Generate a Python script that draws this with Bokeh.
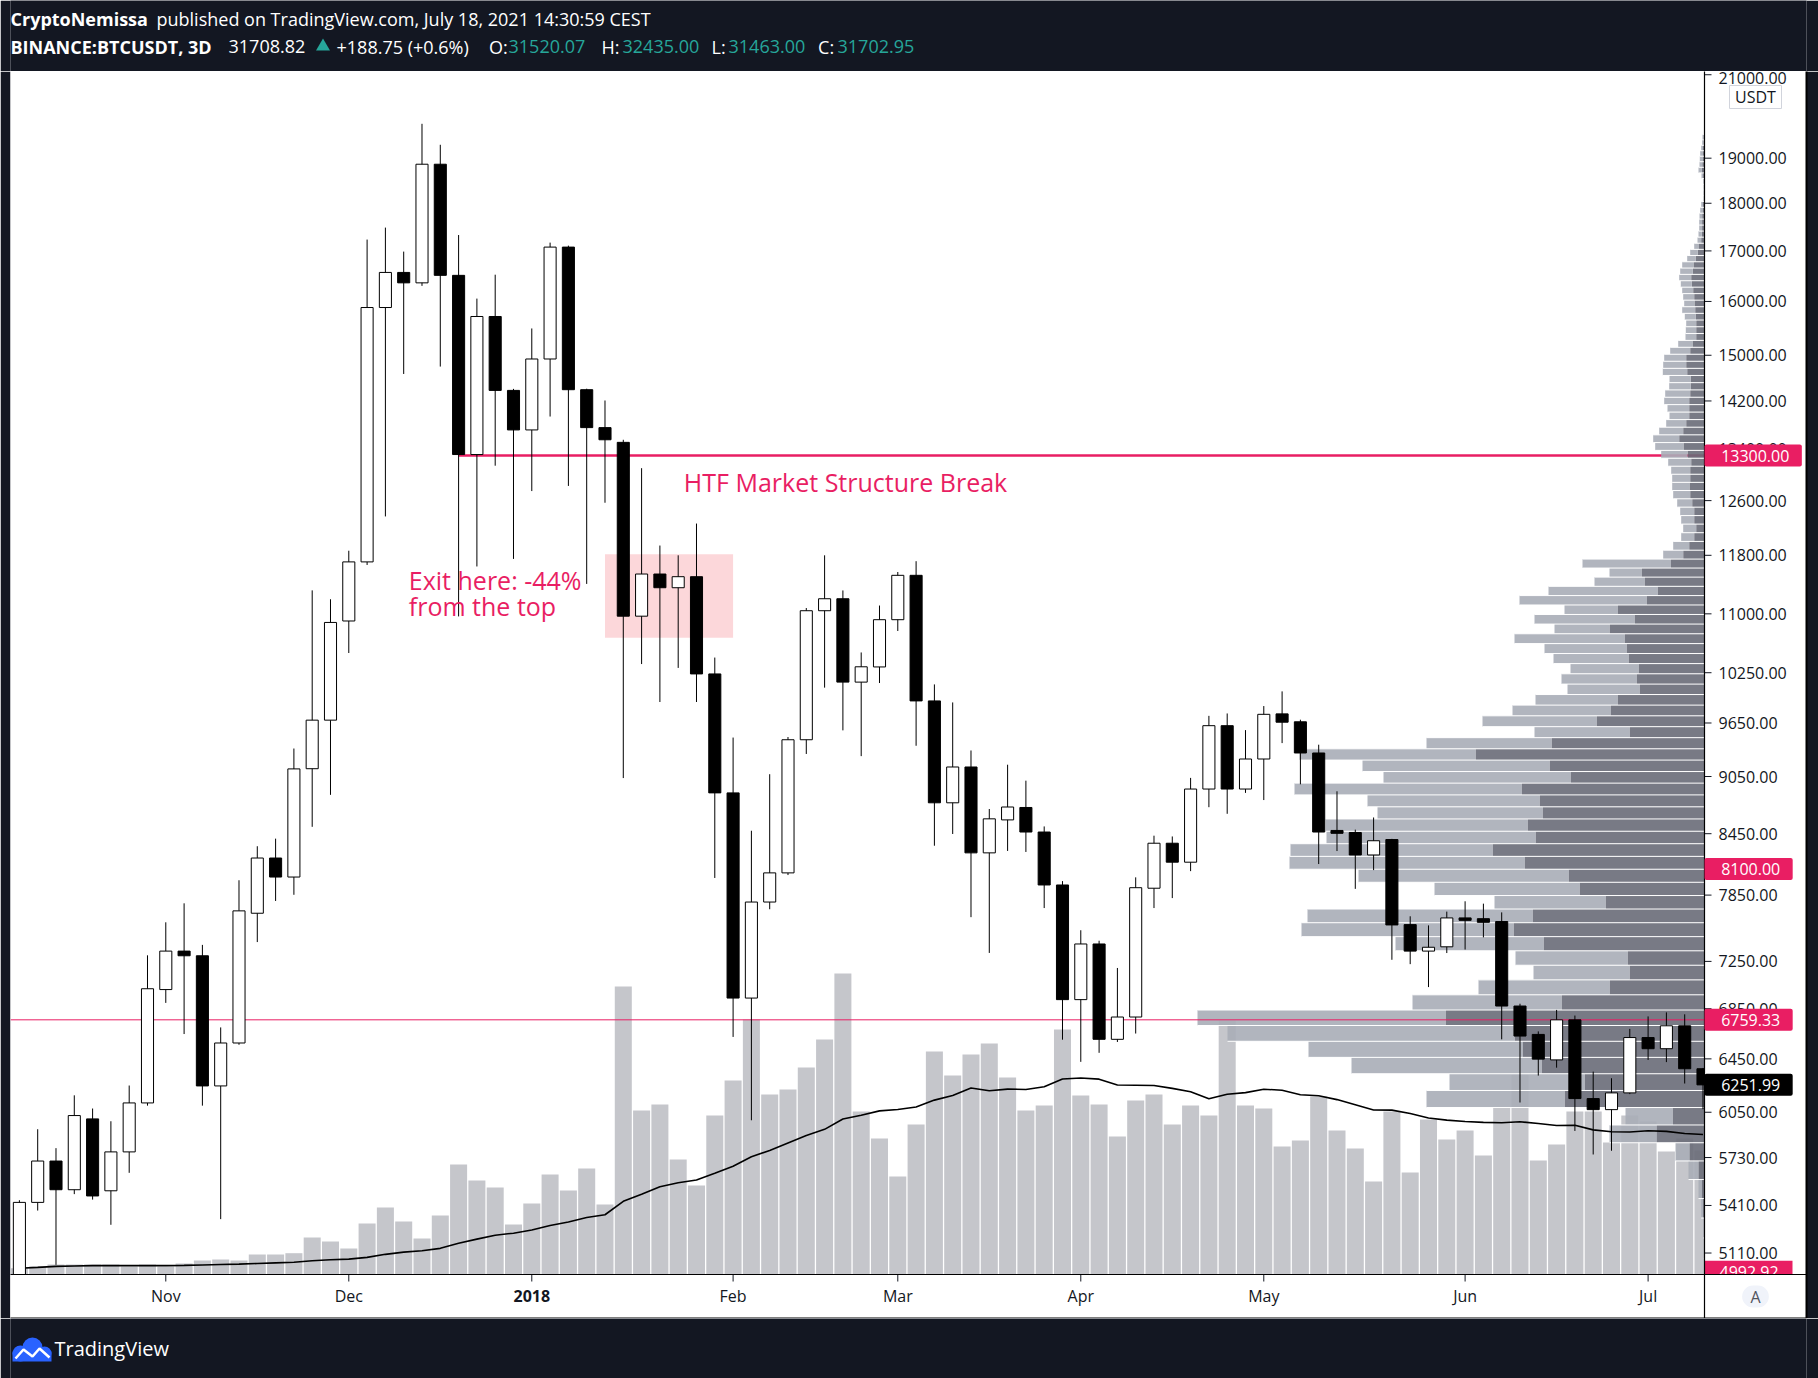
import numpy as np
import pandas as pd
from bokeh.plotting import figure
from bokeh.layouts import column
from bokeh.models import Range1d, LinearScale, FixedTicker, NumeralTickFormatter, Label
from bokeh.core.properties import value
from bokeh.embed import file_html
from bokeh.resources import INLINE

# ---------------- data (BINANCE:BTCUSDT, 3D bars from 2017-10-09) ----------------
opens = [4760, 5430, 5706, 5513, 6002, 5506, 5769, 6118, 7009, 7340,
         7299, 6244, 6574, 7681, 8207, 8022, 9135, 9683, 10906, 11707,
         15884, 16567, 16361, 18863, 16509, 13316, 15714, 14381, 13715, 14933,
         17078, 14393, 13753, 13512, 10969, 11538, 11350, 11501, 10235, 8874,
         6938, 7785, 8062, 9458, 11041, 11201, 10135, 10321, 10923, 11520,
         9909, 8769, 9154, 8258, 8591, 8720, 8467, 7946, 6925, 7403,
         6603, 6782, 7915, 8354, 8166, 8915, 9619, 8915, 9242, 9756,
         9664, 9309, 8483, 8462, 8237, 8391, 7577, 7340, 7378, 7638,
         7631, 7605, 6872, 6642, 6442, 6759, 6150, 6069, 6192, 6617,
         6529, 6711, 6374]
highs = [5444, 5928, 5795, 6174, 6077, 5985, 6247, 7303, 7598, 7773,
         7395, 6698, 7991, 8324, 8400, 9359, 11314, 11194, 11865, 17233,
         17482, 16986, 19800, 19308, 17327, 16055, 16522, 14407, 15490, 17170,
         17108, 14410, 14208, 13554, 13100, 11939, 11800, 12258, 10438, 9483,
         8480, 9075, 9489, 11077, 11800, 11313, 10502, 11110, 11566, 11717,
         10107, 9891, 9337, 8704, 9179, 9005, 8524, 7983, 7526, 7432,
         7193, 8019, 8430, 8422, 9035, 9733, 9761, 9568, 9848, 10023,
         9688, 9402, 8891, 8491, 8616, 8398, 7653, 7570, 7696, 7792,
         7770, 7689, 6891, 6666, 6840, 6794, 6352, 6302, 6686, 6787,
         6820, 6804, 6380]
lows = [4700, 5377, 5038, 5484, 5448, 5286, 5626, 6098, 6898, 6645,
        6098, 5322, 6560, 7420, 7795, 7853, 8520, 8853, 10495, 11664,
        12363, 14667, 16302, 14798, 10966, 11643, 13139, 11749, 12745, 13937,
        12824, 11402, 12568, 9033, 10357, 9896, 10309, 9896, 8013, 6622,
        5992, 7718, 8041, 9298, 10068, 9565, 9274, 10124, 10776, 9390,
        8329, 8447, 7645, 7324, 8277, 8267, 7729, 6600, 6427, 6497,
        6582, 6649, 7729, 7822, 8079, 8723, 8654, 8874, 8798, 9420,
        8966, 8148, 8276, 7909, 8089, 7264, 7226, 7030, 7323, 7354,
        7462, 6603, 6121, 6322, 6382, 5916, 5751, 5777, 6183, 6442,
        6425, 6262, 6072]
closes = [5430, 5706, 5513, 6026, 5472, 5769, 6118, 7016, 7340, 7299,
          6244, 6574, 7703, 8207, 8022, 9133, 9683, 10887, 11707, 15884,
          16567, 16361, 18863, 16509, 13316, 15714, 14381, 13715, 14933, 17078,
          14393, 13753, 13554, 10969, 11538, 11350, 11501, 10235, 8874, 6938,
          7785, 8062, 9458, 11041, 11201, 10135, 10323, 10923, 11520, 9909,
          8769, 9154, 8258, 8602, 8725, 8467, 7946, 6925, 7403, 6603,
          6782, 7920, 8354, 8166, 8915, 9619, 8915, 9242, 9751, 9659,
          9309, 8467, 8454, 8237, 8379, 7574, 7340, 7374, 7638, 7616,
          7598, 6872, 6629, 6448, 6759, 6150, 6069, 6192, 6617, 6529,
          6711, 6374, 6251.99]
volumes = [3150, 4000, 5000, 5000, 5000, 5000, 4000, 5000, 4000, 5500,
           7000, 7500, 7000, 10000, 10000, 10650, 18500, 16500, 13000, 25500,
           33500, 26500, 18000, 29500, 55000, 47000, 43500, 25000, 35500, 50000,
           42000, 53000, 35000, 144000, 82000, 85000, 57500, 44500, 79500, 97000,
           127500, 90000, 92500, 103500, 117500, 150500, 81500, 68000, 49000, 75000,
           111500, 99500, 110000, 115500, 98500, 82000, 84500, 122500, 89500, 85000,
           69000, 87000, 90000, 75000, 84500, 79500, 127000, 84500, 83000, 64000,
           67000, 89000, 72000, 63000, 46500, 81500, 51000, 77500, 67500, 72000,
           59500, 83500, 100000, 57000, 65000, 81500, 81500, 66000, 79500, 76500,
           61500, 68000, 62000]

month_ticks = [8, 18, 28, 39, 48, 58, 68, 79, 89]
month_labels = ["Nov", "Dec", "2018", "Feb", "Mar", "Apr", "May", "Jun", "Jul"]
price_ticks = [21000, 19000, 18000, 17000, 16000, 15000, 14200, 13400, 12600, 11800,
               11000, 10250, 9650, 9050, 8450, 7850, 7250, 6850, 6450, 6050, 5730, 5410, 5110]

# visible-range volume profile (rows from top price down)
vp_high, vp_low, vp_rows = 19800, 4700, 120
vp_total = [0, 0, 2, 2.3, 3.3, 4.3, 4.7, 5, 6, 3, 1.3, 1, 1, 1, 3.3, 4.3, 5, 5.3, 5.3, 6, 7,
            10.3, 14.3, 17.3, 22.3, 24.3, 25.3, 23.7, 22.3, 21.3, 20.3,
            22.3, 19.7, 18.3, 18.7, 19, 26.3, 34.3, 40.3, 41.3, 41.7,
            35, 35.3, 39.3, 40.3, 37, 35, 38.3, 45.3, 51.3, 49.3,
            43.3, 36.3, 33.3, 32.3, 32.3, 31.3, 27.3, 24.3, 23.3, 21.3,
            23.3, 31.3, 41.3,
            122, 95, 110, 156, 185, 140, 170, 150, 190, 160, 151,
            134, 143, 137, 169, 192, 222, 170, 278, 405, 342,
            321, 410, 337, 327, 379, 378, 414, 415, 346, 270,
            210, 397, 403, 309, 189, 171, 226, 292, 507, 477,
            396, 353, 255, 278, 79, 95, 29, 16, 6, 3.3,
            1.3, 0.7, 0.5, 0.3, 0.2]
vp_up = [0, 0, 1, 1, 1.5, 2, 2, 2.2, 2.6, 1.4, 0.6, 0.5, 0.5, 0.5, 1.5, 2, 2.3, 2.4, 2.4, 2.8, 3.3,
         6, 6.7, 8.7, 11, 11.7, 13.3, 12.7, 11.3, 10.3, 10,
         9.3, 8.7, 8.3, 8.3, 8.3, 12, 14.3, 18.3, 18.3, 17.3,
         13.7, 13.7, 14.3, 15.3, 15.3, 15.3, 18.3, 21.3, 25.3, 21,
         17, 13.3, 14.3, 14.3, 15, 14.3, 12.3, 10.3, 10.3, 8.3,
         10.3, 15.3, 21.3,
         34, 63, 60, 47, 58, 87, 70, 95, 80, 78, 76,
         66, 68, 65, 87, 94, 108, 75, 153, 229, 155,
         134, 183, 165, 162, 177, 169, 212, 180, 136, 125,
         99, 172, 191, 161, 77, 75, 95, 143, 259, 190,
         182, 163, 120, 140, 32, 48, 15, 6, 2.7, 1.5,
         0.6, 0.3, 0.2, 0.1, 0.1]

break_bar, break_level = 24, 13300
close_level = 6759.33
zone_left, zone_right, zone_low, zone_high = 32, 39, 10690, 11815
tags = [(13300, "13300.00", "#e91e63"), (8100, "8100.00", "#e91e63"),
        (6759.33, "6759.33", "#e91e63"), (6251.99, "6251.99", "#000000")]
low_tag = (4992.92, "4992.92", "#e91e63")

# ---------------- layout constants ----------------
DARK = "#131722"
PINK = "#e91e63"
TEAL = "#26a69a"
FONT = "Open Sans"
NB = "\u00a0"
W = 1818
LEFT_B, RIGHT_B = 10, 12
BAR_PX = 18.3            # pixels per bar
FRAME_W = W - LEFT_B - RIGHT_B   # white chart box width (page x 10..1806)
FRAME_H = 1247           # white chart box height (page y 71..1318)
PANE_W = 1694            # price pane width (page x 10..1704)
PANE_H = 1203            # price pane height (page y 71..1274)
X0 = -0.486
X1 = X0 + PANE_W / BAR_PX        # right edge of price pane
XE = X0 + FRAME_W / BAR_PX       # right edge of white box
P_TOP, P_BOT = 21082, 4980       # prices at top / bottom of price pane
RATIO = P_TOP / P_BOT
Y_START = P_BOT * RATIO ** (-(FRAME_H - PANE_H) / PANE_H)
def below(px):                   # price value px pixels below the pane bottom
    return P_BOT * RATIO ** (-px / PANE_H)
def above(v, px):                # price value px pixels above a price
    return v * RATIO ** (px / PANE_H)
VOL_TOP = 601500
VOL_START = -VOL_TOP * (FRAME_H - PANE_H) / PANE_H

idx = np.arange(len(opens))
o = np.array(opens, dtype=float)
c = np.array(closes, dtype=float)
up = c >= o

# ---------------- header ----------------
h = figure(width=W, height=71, x_range=Range1d(LEFT_B, W - RIGHT_B), y_range=Range1d(71, 0),
           x_axis_location=None, y_axis_location=None, output_backend="svg",
           toolbar_location=None, min_border_left=LEFT_B, min_border_right=RIGHT_B,
           min_border_top=0, min_border_bottom=0, background_fill_color=DARK,
           border_fill_color=DARK, outline_line_color=None)
h.grid.visible = False

def htext(x, y, t, color="white", style="normal", size="18px"):
    h.text(x=[x], y=[y], text=[t], text_font=value(FONT), text_font_size=size,
           text_color=color, text_font_style=style, text_baseline="alphabetic")

htext(10, 18.7, "CryptoNemissa", style="bold")
htext(156, 18.7, "published on TradingView.com, July 18, 2021 14:30:59 CEST")
htext(10, 46, "BINANCE:BTCUSDT, 3D", style="bold")
htext(228, 46, "31708.82")
h.scatter(x=[322.5], y=[46], marker="triangle", size=14, fill_color=TEAL, line_color=None)
htext(336, 46, "+188.75 (+0.6%)")
for lx, lab, vx, val in [(488.5, "O:", 508, "31520.07"), (601, "H:", 622, "32435.00"),
                         (711, "L:", 728, "31463.00"), (817.6, "C:", 837, "31702.95")]:
    htext(lx, 46, lab)
    htext(vx, 46, val, color=TEAL)

# ---------------- main chart ----------------
p = figure(width=W, height=FRAME_H, x_range=Range1d(X0, XE), y_range=Range1d(Y_START, P_TOP),
           y_axis_type="log", y_axis_location="right", x_axis_location="below",
           output_backend="svg", toolbar_location=None,
           min_border_left=LEFT_B, min_border_right=RIGHT_B, min_border_top=0, min_border_bottom=0,
           background_fill_color="white", border_fill_color=DARK, outline_line_color=None)
p.grid.visible = False
p.extra_y_ranges = {"vol": Range1d(VOL_START, VOL_TOP)}
p.extra_y_scales = {"vol": LinearScale()}
p.extra_x_ranges = {"vp": Range1d(PANE_W, PANE_W - FRAME_W)}
p.extra_x_scales = {"vp": LinearScale()}

# volume
p.vbar(x=idx, top=volumes, bottom=0, width=0.93, y_range_name="vol",
       fill_color="#c5c6cb", line_color=None)

# 13300 structure line
p.segment(x0=[break_bar], y0=[break_level], x1=[X1], y1=[break_level],
          line_color=PINK, line_width=2.5)

# volume profile
row = (vp_high - vp_low) / vp_rows
centers = vp_high - (np.arange(vp_rows) + 0.5) * row
vt = np.array(vp_total, dtype=float)
vu = np.array(vp_up, dtype=float)
p.hbar(y=centers, height=row, left=vu, right=0, x_range_name="vp",
       fill_color="#696c78", fill_alpha=0.9, line_color=None)
p.hbar(y=centers, height=row, left=vt, right=vu, x_range_name="vp",
       fill_color="#a9adb7", fill_alpha=0.9, line_color=None)
edges = vp_high - np.arange(1, vp_rows) * row
ext = np.maximum(vt[:-1], vt[1:])
p.segment(x0=np.zeros(len(edges)), y0=edges, x1=ext, y1=edges, x_range_name="vp",
          line_color="white", line_width=1)

# thin close line
p.segment(x0=[X0], y0=[close_level], x1=[X1], y1=[close_level], line_color=PINK, line_width=1)

# volume moving average
ma = pd.Series(volumes, dtype=float).rolling(20, min_periods=1).mean()
p.line(idx, ma, y_range_name="vol", line_color="black", line_width=1.6)

# exit zone
p.quad(left=[zone_left], right=[zone_right], bottom=[zone_low], top=[zone_high],
       fill_color="#f23645", fill_alpha=0.2, line_color=None)

# candles
p.segment(x0=idx, y0=lows, x1=idx, y1=highs, line_color="black", line_width=1)
p.vbar(x=idx[up], bottom=o[up], top=c[up], width=0.66, fill_color="white",
       line_color="black", line_width=1)
p.vbar(x=idx[~up], bottom=c[~up], top=o[~up], width=0.66, fill_color="black",
       line_color="black", line_width=1)

# chart notes
p.text(x=[36.31], y=[12883], text=["HTF Market Structure Break"], text_font=value(FONT),
       text_font_size="25px", text_color=PINK, text_baseline="alphabetic")
p.text(x=[21.28, 21.28], y=[11450, 11098], text=["Exit here: -44%", "from the top"],
       text_font=value(FONT), text_font_size="25px", text_color=PINK, text_baseline="alphabetic")

# price-scale area (white), bottom tag clipped by the time-scale area
p.quad(left=[X1], right=[XE + 1], bottom=[P_BOT], top=[P_TOP * 1.1],
       fill_color="white", line_color=None)
lv, lt, lc = low_tag
p.quad(left=[X1], right=[X1 + 88 / BAR_PX], bottom=[above(lv, -11.5)], top=[above(lv, 11.5)],
       fill_color=lc, line_color=None)
p.text(x=[X1 + 15 / BAR_PX], y=[lv], text=[lt], text_font=value(FONT), text_font_size="16px",
       text_color="white", text_baseline="alphabetic")
p.quad(left=[X0 - 1], right=[XE + 1], bottom=[Y_START * 0.9], top=[P_BOT],
       fill_color="white", line_color=None)

# USDT currency box
p.quad(left=[X1 + 25 / BAR_PX], right=[X1 + 77 / BAR_PX], bottom=[above(P_TOP, -37)],
       top=[above(P_TOP, -14)], fill_color="white", line_color="#d1d4dc", line_width=1)
p.text(x=[X1 + 51 / BAR_PX], y=[above(P_TOP, -25.5)], text=["USDT"], text_font=value(FONT),
       text_font_size="16px", text_color=DARK, text_align="center", text_baseline="alphabetic")

# tick marks and pane borders
p.segment(x0=[X1] * len(price_ticks), y0=price_ticks, x1=[X1 + 7 / BAR_PX] * len(price_ticks),
          y1=price_ticks, line_color=DARK, line_width=1)
p.segment(x0=month_ticks, y0=[P_BOT] * len(month_ticks), x1=month_ticks,
          y1=[below(7)] * len(month_ticks), line_color=DARK, line_width=1)
p.segment(x0=[X1], y0=[Y_START], x1=[X1], y1=[P_TOP * 1.1], line_color="black", line_width=1.2)
p.segment(x0=[X0 - 1], y0=[P_BOT], x1=[XE + 1], y1=[P_BOT], line_color="black", line_width=1.2)

# axes (labels placed inside the white box)
yax = p.yaxis[0]
yax.ticker = FixedTicker(ticks=price_ticks)
yax.formatter = NumeralTickFormatter(format="0.00")
yax.major_label_text_font = FONT
yax.major_label_text_font_size = "16px"
yax.major_label_text_color = DARK
yax.major_tick_out = 0
yax.major_tick_in = 0
yax.minor_tick_out = 0
yax.minor_tick_in = 0
yax.axis_line_color = "black"
yax.axis_line_width = 2
yax.major_label_standoff = -88

xax = p.xaxis[0]
xax.ticker = FixedTicker(ticks=month_ticks)
xax.major_label_overrides = {t: ("" if l == "2018" else l) for t, l in zip(month_ticks, month_labels)}
xax.major_label_text_font = FONT
xax.major_label_text_font_size = "16px"
xax.major_label_text_color = DARK
xax.major_tick_out = 0
xax.major_tick_in = 0
xax.minor_tick_out = 0
xax.minor_tick_in = 0
xax.axis_line_color = "black"
xax.axis_line_width = 2
xax.major_label_standoff = -34

p.add_layout(Label(x=month_ticks[month_labels.index("2018")], y=below(21.5), text="2018",
                   text_font=FONT, text_font_size="16px", text_font_style="bold",
                   text_color=DARK, text_align="center", text_baseline="middle"))

# price tags on the scale (drawn above the scale labels)
for val, txt, col in tags:
    p.add_layout(Label(x=X1, y=val, text=NB * 4 + txt + NB * 3, text_align="left",
                       text_baseline="middle", text_font=FONT, text_font_size="16px",
                       text_color="white", background_fill_color=col, background_fill_alpha=1.0,
                       border_radius=2))

p.add_layout(Label(x=X1 + 51 / BAR_PX, y=below(22), text=NB * 2 + "A" + NB * 2, text_align="center",
                   text_baseline="middle", text_font=FONT, text_font_size="16px", text_color="#50535e",
                   background_fill_color="#f0f3fa", border_radius=13))

# ---------------- footer ----------------
f = figure(width=W, height=60, x_range=Range1d(LEFT_B, W - RIGHT_B), y_range=Range1d(60, 0),
           x_axis_location=None, y_axis_location=None, output_backend="svg",
           toolbar_location=None, min_border_left=LEFT_B, min_border_right=RIGHT_B,
           min_border_top=0, min_border_bottom=0, background_fill_color=DARK,
           border_fill_color=DARK, outline_line_color=None)
f.grid.visible = False
BLUE = "#2962ff"
f.circle(x=[20, 32, 44], y=[35, 29, 35], radius=[8, 10, 7], fill_color=BLUE, line_color=None)
f.quad(left=[12], right=[51], top=[33], bottom=[43], fill_color=BLUE, line_color=None)
f.line(x=[15, 23, 32, 39, 49], y=[40, 31, 38, 30, 39], line_color="white", line_width=2.5)
f.text(x=[54], y=[29.5], text=["TradingView"], text_font=value(FONT), text_font_size="20px",
       text_color="white", text_baseline="alphabetic")

layout = column(h, p, f, spacing=0)
open("out.html", "w").write(file_html(layout, INLINE))
